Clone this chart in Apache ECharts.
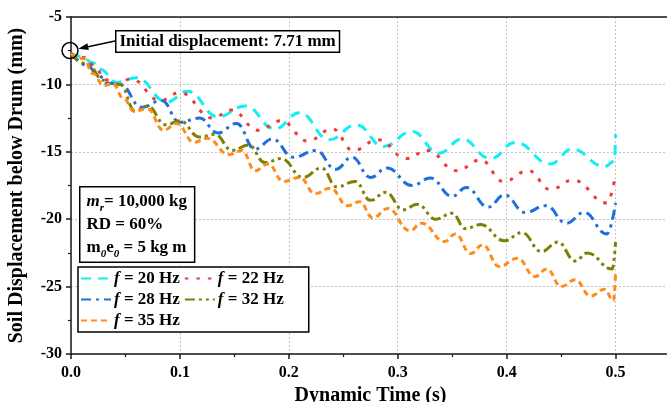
<!DOCTYPE html>
<html><head><meta charset="utf-8">
<script src="https://cdn.jsdelivr.net/npm/echarts@6/dist/echarts.min.js"></script>
<style>html,body{margin:0;padding:0;background:#fff}#c{width:667px;height:402px}</style>
</head><body><div id="c"></div>
<script>
// ---------------- data ----------------
const seriesNames = ['f = 20 Hz', 'f = 22 Hz', 'f = 28 Hz', 'f = 32 Hz', 'f = 35 Hz'];

const timeF20 = [0, 0.01, 0.02, 0.027, 0.042, 0.06, 0.088, 0.107, 0.135, 0.16, 0.187, 0.21, 0.237, 0.262, 0.287, 0.313, 0.338, 0.359, 0.385, 0.408, 0.44, 0.46, 0.49, 0.499, 0.5];
const dispF20 = [-7.71, -7.95, -8.4, -8.9, -9.85, -9.5, -11.3, -10.5, -12.4, -11.6, -13.3, -12.1, -14.1, -13.0, -14.6, -13.5, -15.1, -14.05, -15.5, -14.3, -15.9, -14.8, -16.1, -15.7, -13.7];

const timeF22 = [0, 0.013, 0.024, 0.03, 0.04, 0.055, 0.082, 0.1, 0.13, 0.147, 0.172, 0.193, 0.217, 0.24, 0.259, 0.282, 0.308, 0.327, 0.354, 0.376, 0.397, 0.42, 0.44, 0.461, 0.492, 0.5];
const dispF22 = [-7.71, -8.0, -8.9, -9.6, -10.0, -9.6, -11.2, -10.6, -12.5, -11.9, -13.4, -12.7, -14.2, -13.3, -14.9, -14.1, -15.5, -14.9, -16.4, -15.6, -17.2, -16.4, -17.8, -17.1, -18.8, -16.7];

const timeF28 = [0, 0.015, 0.025, 0.033, 0.045, 0.065, 0.083, 0.1, 0.118, 0.135, 0.152, 0.169, 0.185, 0.204, 0.225, 0.243, 0.258, 0.275, 0.29, 0.313, 0.33, 0.35, 0.363, 0.383, 0.398, 0.417, 0.436, 0.455, 0.471, 0.492, 0.5];
const dispF28 = [-7.71, -8.6, -9.3, -9.9, -10.0, -11.7, -11.2, -12.8, -12.5, -13.6, -12.9, -14.8, -14.05, -15.4, -14.9, -16.3, -15.4, -16.9, -16.2, -17.5, -16.95, -18.3, -17.65, -19.1, -18.2, -19.5, -19.0, -20.3, -19.5, -21.1, -18.8];

const timeF32 = [0, 0.015, 0.03, 0.038, 0.045, 0.059, 0.07, 0.087, 0.1, 0.118, 0.132, 0.148, 0.163, 0.178, 0.193, 0.213, 0.23, 0.244, 0.261, 0.275, 0.289, 0.305, 0.318, 0.335, 0.35, 0.362, 0.376, 0.398, 0.414, 0.432, 0.447, 0.463, 0.474, 0.497, 0.5];
const dispF32 = [-7.71, -8.5, -9.7, -10.1, -10.0, -12.0, -11.6, -13.0, -12.7, -13.9, -13.7, -14.9, -14.5, -15.8, -15.5, -16.9, -16.2, -17.6, -17.2, -18.6, -18.0, -19.3, -18.9, -20.0, -19.55, -20.7, -20.4, -21.6, -21.0, -22.4, -21.7, -23.1, -22.5, -23.7, -21.7];

const timeF35 = [0, 0.012, 0.02, 0.03, 0.038, 0.048, 0.058, 0.07, 0.085, 0.097, 0.113, 0.125, 0.145, 0.157, 0.169, 0.181, 0.195, 0.21, 0.224, 0.238, 0.254, 0.265, 0.277, 0.291, 0.311, 0.322, 0.343, 0.353, 0.367, 0.378, 0.393, 0.41, 0.426, 0.437, 0.45, 0.463, 0.477, 0.49, 0.498, 0.5];
const dispF35 = [-7.71, -8.1, -9.2, -10.1, -9.9, -11.0, -12.0, -11.8, -13.4, -12.9, -14.3, -14.0, -15.2, -14.9, -16.4, -15.9, -17.2, -16.9, -18.1, -17.7, -19.0, -18.7, -19.9, -19.2, -20.85, -20.3, -21.66, -21.1, -22.55, -21.9, -23.5, -22.9, -24.25, -23.7, -25.0, -24.5, -25.7, -25.2, -26.05, -24.1];

const xTickValues = [0, 0.1, 0.2, 0.3, 0.4, 0.5];
const yTickValues = [-30, -25, -20, -15, -10, -5];
const initialPoint = [0, -7.71];
const annotationText = 'Initial displacement: 7.71 mm';

// ---------------- chart ----------------
const times = [timeF20, timeF22, timeF28, timeF32, timeF35];
const values = [dispF20, dispF22, dispF28, dispF32, dispF35];
const FONT = '"Liberation Serif", "Times New Roman", serif';
const looks = [
  {color: '#12EEF4', dash: [10, 7]},
  {color: '#F03A3A', dash: [3.5, 8]},
  {color: '#1E6FDC', dash: [10, 5, 3, 5]},
  {color: '#7F7F00', dash: [10, 4, 3, 4, 3, 4]},
  {color: '#FF8C1A', dash: [6, 4]}
];

const chart = echarts.init(document.getElementById('c'));
const series = seriesNames.map((n, i) => ({
  name: n, type: 'line', smooth: 0.45, smoothMonotone: 'x', symbol: 'none', showSymbol: false,
  data: times[i].map((t, j) => [t, values[i][j]]),
  lineStyle: {width: 3, color: looks[i].color, type: looks[i].dash, cap: 'butt'},
  itemStyle: {color: looks[i].color},
  z: 2 + i
}));

const axisCommon = {
  axisLine: {show: true, onZero: false, lineStyle: {color: '#1a1a1a', width: 1.5}},
  axisTick: {show: true, inside: false, length: 5, lineStyle: {color: '#1a1a1a', width: 1.5}},
  minorTick: {show: true, splitNumber: 2, length: 3, lineStyle: {color: '#1a1a1a', width: 1.2}},
  splitLine: {show: true, lineStyle: {color: '#c4c4c4', type: [2, 2], width: 1}},
  nameTextStyle: {fontFamily: FONT, fontWeight: 'bold', fontSize: 20, color: '#000'}
};

chart.setOption({
  animation: false,
  backgroundColor: '#fff',
  grid: {left: 71, right: -3, top: 17, bottom: 48, containLabel: false, outerBoundsMode: 'none'},
  xAxis: [Object.assign({}, axisCommon, {
    type: 'value', min: xTickValues[0], max: 0.55, interval: 0.1,
    name: 'Dynamic Time (s)', nameLocation: 'middle', nameGap: 31,
    axisLabel: {fontFamily: FONT, fontWeight: 'bold', fontSize: 16, color: '#000', margin: 11,
      showMaxLabel: false, formatter: v => xTickValues.some(t => Math.abs(t - v) < 1e-9) ? v.toFixed(1) : ''}
  }), {
    type: 'value', position: 'top', min: 0, max: 0.55,
    axisLine: {show: true, onZero: false, lineStyle: {color: '#1a1a1a', width: 1.5}},
    axisTick: {show: false}, axisLabel: {show: false}, splitLine: {show: false}
  }],
  yAxis: Object.assign({}, axisCommon, {
    type: 'value', min: yTickValues[0], max: yTickValues[yTickValues.length - 1], interval: 5,
    name: 'Soil Displacement below Drum (mm)', nameLocation: 'middle', nameGap: 44,
    axisLabel: {fontFamily: FONT, fontWeight: 'bold', fontSize: 16, color: '#000', margin: 9}
  }),
  legend: {
    data: seriesNames, left: 78, top: 267, width: 212, orient: 'horizontal',
    itemWidth: 30, itemHeight: 12, itemGap: 4, padding: [3, 25, 3, 2],
    borderColor: '#000', borderWidth: 1.5, backgroundColor: '#fff', z: 20,
    itemStyle: {opacity: 0, borderWidth: 0},
    formatter: name => '{i|f}{b|' + name.slice(1) + '}',
    textStyle: {color: '#000', fontFamily: FONT, fontWeight: 'bold', fontSize: 17, lineHeight: 17, padding: [0, 0, 0, -2],
      rich: {i: {fontFamily: FONT, fontWeight: 'bold', fontStyle: 'italic', fontSize: 17, lineHeight: 17, color: '#000'},
             b: {fontFamily: FONT, fontWeight: 'bold', fontSize: 17, lineHeight: 17, color: '#000'}}}
  },
  series: series
});

// annotations (positions derived from the data point through the chart's own scales)
const p = chart.convertToPixel({gridIndex: 0}, initialPoint);
const cx = p[0] - 1, cy = p[1] - 3, r = 8;
const boxLeft = 115, boxTop = 30;
const fromX = boxLeft, fromY = boxTop + 11;
const dx = fromX - cx, dy = fromY - cy, len = Math.hypot(dx, dy);
const ux = dx / len, uy = dy / len;
const tipX = cx + ux * (r + 0.5), tipY = cy + uy * (r + 0.5);
const headL = 10, headW = 3.5;
const bx = tipX + ux * headL, by = tipY + uy * headL;
const nx = -uy, ny = ux;
const T = {fontFamily: FONT, fontWeight: 'bold', fontSize: 17, lineHeight: 23, fill: '#000'};

chart.setOption({
  graphic: [
    {type: 'circle', shape: {cx: cx, cy: cy, r: r}, style: {fill: 'none', stroke: '#000', lineWidth: 1.5}, z: 50},
    {type: 'line', shape: {x1: bx, y1: by, x2: fromX, y2: fromY}, style: {stroke: '#000', lineWidth: 1.5}, z: 50},
    {type: 'polygon', shape: {points: [[tipX, tipY], [bx + nx * headW, by + ny * headW], [bx - nx * headW, by - ny * headW]]},
      style: {fill: '#000'}, z: 50},
    {type: 'text', left: boxLeft, top: boxTop, z: 60,
      style: {text: annotationText, fontFamily: FONT, fontWeight: 'bold', fontSize: 17, fill: '#000',
        backgroundColor: '#fff', borderColor: '#000', borderWidth: 1.5, padding: [2, 3, 1, 3]}},
    {type: 'text', left: 79, top: 186, z: 60,
      style: {
        text: '{mi|m}{sub|r}{t|= 10,000 kg}\n{t|RD = 60%}\n{t|m}{sub|0}{t|e}{sub|0}{t| = 5 kg m}',
        rich: {
          t: T,
          mi: Object.assign({}, T, {fontStyle: 'italic'}),
          sub: {fontFamily: FONT, fontWeight: 'bold', fontStyle: 'italic', fontSize: 11, lineHeight: 13, verticalAlign: 'bottom', fill: '#000'}
        },
        backgroundColor: '#fff', borderColor: '#000', borderWidth: 1.5, padding: [3, 7, 2, 6]
      }}
  ]
});
</script></body></html>
